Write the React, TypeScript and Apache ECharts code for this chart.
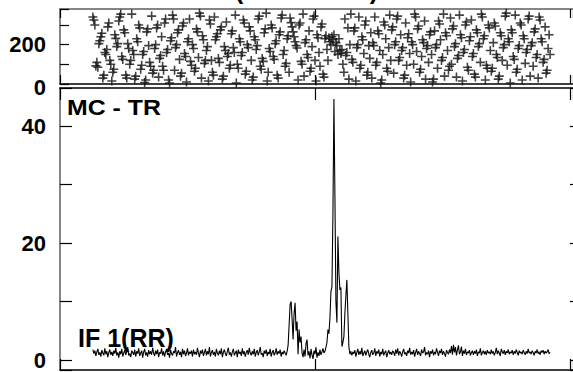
import React, { useEffect, useRef } from "react";
import * as echarts from "echarts";

// ---- data ----
const firstChannel = 33;

const ampValues: number[] = [
  1.8, 1.1, 1.6, 0.7, 1.4, 1.9, 0.9, 1.3, 0.6, 1.7, 1.2, 0.8, 2.0, 1.0, 1.5, 0.5, 1.3, 1.8, 0.9, 1.4,
  0.7, 1.6, 1.1, 2.1, 0.8, 1.3, 0.4, 1.5, 1.0, 1.9, 0.6, 1.2, 1.7, 0.9, 1.4, 2.2, 0.8, 1.1, 0.5, 1.6,
  1.3, 0.9, 1.8, 0.6, 1.5, 1.1, 2.0, 0.7, 1.2, 1.6, 0.4, 1.4, 1.9, 0.8, 1.3, 0.6, 1.7, 1.0, 1.5, 0.9,
  2.1, 1.2, 0.7, 1.6, 1.0, 1.8, 0.5, 1.3, 1.1, 2.0, 0.8, 1.5, 0.6, 1.4, 1.9, 0.9, 1.2, 0.4, 1.7, 1.1,
  0.8, 1.5, 1.2, 2.2, 0.6, 1.3, 1.7, 0.9, 1.4, 0.5, 1.9, 1.0, 1.6, 0.7, 1.2, 2.0, 0.8, 1.4, 1.1, 1.6,
  0.6, 1.8, 1.0, 1.4, 0.9, 2.1, 1.2, 0.5, 1.6, 1.1, 1.8, 0.7, 1.3, 1.9, 0.8, 1.5, 1.0, 2.2, 0.6, 1.3,
  1.7, 0.9, 1.4, 0.6, 1.9, 1.2, 0.8, 1.6, 1.0, 2.0, 0.5, 1.3, 1.8, 1.1, 0.7, 1.5, 2.1, 0.9, 1.3, 0.6,
  1.4, 1.9, 0.8, 1.2, 1.6, 0.5, 1.8, 1.1, 1.4, 0.7, 2.0, 1.0, 1.5, 0.6, 1.3, 1.7, 0.9, 2.1, 1.2, 0.8,
  1.5, 1.0, 1.9, 0.6, 1.3, 1.7, 0.8, 1.4, 2.2, 0.9, 1.2, 0.5, 1.6, 1.1, 1.8, 0.7, 1.4, 1.0, 1.9, 0.6,
  1.3, 1.7, 0.8, 1.2, 2.0, 0.9, 1.5, 1.1, 1.8, 0.6, 1.4, 1.0, 1.6, 1.2, 0.8, 1.5, 2.5, 6.0, 9.5, 10.0,
  7.0, 3.5, 8.0, 9.8, 5.0, 6.6, 1.0, 5.2, 3.0, 4.0, 1.2, 0.5, 1.8, 0.6, 2.8, 3.5, 0.8, 1.5, 0.3, 1.9,
  0.9, 0.2, 1.6, 1.0, 2.2, 0.4, 1.3, 0.7, 1.8, 0.9, 1.4, 2.0, 1.2, 1.5, 2.2, 3.0, 5.2, 4.5, 7.2, 11.7,
  12.5, 25.0, 44.6, 28.0, 10.0, 6.4, 21.1, 15.0, 12.0, 12.4, 2.3, 3.0, 4.0, 8.0, 11.0, 13.7, 8.0, 2.3, 1.0, 1.5,
  0.8, 1.4, 1.1, 1.7, 0.6, 1.3, 1.9, 0.9, 1.5, 1.0, 2.1, 0.7, 1.2, 1.6, 0.8, 1.4, 1.8, 1.0, 0.5, 1.3,
  1.7, 0.9, 1.2, 2.0, 0.7, 1.5, 1.1, 1.8, 0.6, 1.4, 1.0, 1.9, 0.8, 1.3, 1.6, 0.5, 1.2, 1.7, 1.0, 1.4,
  0.9, 1.6, 1.3, 0.7, 1.8, 1.1, 2.0, 0.8, 1.5, 1.2, 0.6, 1.4, 1.9, 1.0, 1.3, 0.7, 1.6, 1.2, 2.1, 0.9,
  1.4, 1.0, 1.7, 0.6, 1.3, 1.9, 0.9, 1.5, 1.1, 0.7, 1.8, 1.2, 1.4, 2.2, 0.8, 1.3, 1.0, 1.6, 0.5, 1.5,
  1.1, 1.8, 0.8, 1.4, 1.0, 2.0, 1.3, 0.7, 1.6, 1.2, 1.9, 0.9, 1.5, 1.1, 0.6, 1.7, 1.3, 1.0, 1.8, 1.2,
  2.4, 0.9, 2.6, 1.3, 2.2, 0.8, 1.7, 2.5, 1.0, 1.4, 2.3, 0.7, 1.6, 1.1, 1.9, 0.9, 1.4, 1.2, 1.7, 0.8,
  1.3, 1.6, 0.9, 1.5, 1.1, 1.8, 0.7, 1.4, 1.2, 2.0, 0.8, 1.3, 1.6, 1.0, 1.5, 0.9, 1.7, 1.2, 1.4, 1.0,
  1.8, 1.1, 1.5, 0.8, 1.3, 2.1, 1.0, 1.6, 1.2, 0.7, 1.9, 1.4, 1.1, 1.7, 0.9, 1.5, 1.2, 1.8, 1.0, 1.4,
  1.2, 1.7, 0.9, 1.5, 1.1, 1.8, 1.3, 0.8, 1.6, 1.2, 1.4, 1.0, 1.7, 1.3, 0.9, 1.5, 1.1, 1.9, 1.2, 1.4,
  1.0, 1.6, 1.3, 0.8, 1.5, 1.2, 1.8, 1.1, 1.4, 0.9, 1.6, 1.3, 1.7, 1.0, 1.5, 1.2, 1.4, 1.8, 1.1, 1.3,
];

const phaseValues: number[] = [
  340, 325, 300, 92, 110, 85, 205, 220, 240, 258, 30, 45, 160, 150, 175, 290, 310, 120, 100, 15,
  60, 75, 250, 232, 190, 205, 320, 340, 355, 140, 125, 275, 260, 45, 30, 205, 180, 100, 120, 355,
  170, 150, 25, 40, 230, 215, 300, 285, 75, 95, 150, 165, 8, 20, 265, 280, 195, 110, 90, 345,
  55, 70, 180, 200, 285, 300, 35, 130, 145, 240, 90, 70, 310, 330, 160, 175, 20, 5, 220, 235,
  350, 330, 70, 185, 200, 260, 275, 125, 40, 55, 295, 310, 155, 140, 10, 215, 230, 330, 115, 95,
  200, 180, 65, 80, 280, 265, 135, 360, 345, 30, 245, 225, 105, 120, 170, 190, 15, 325, 305, 120,
  60, 45, 340, 225, 240, 255, 130, 110, 275, 290, 25, 40, 190, 170, 315, 140, 155, 80, 95, 255,
  270, 185, 160, 350, 5, 100, 80, 230, 215, 145, 160, 325, 310, 50, 65, 200, 185, 290, 270, 120,
  20, 35, 240, 225, 175, 195, 330, 345, 90, 75, 130, 115, 260, 280, 360, 15, 60, 180, 165, 300,
  285, 140, 125, 205, 220, 45, 30, 250, 265, 335, 350, 150, 170, 90, 105, 230, 245, 60, 335, 312,
  290, 265, 240, 215, 195, 183, 20, 300, 310, 115, 100, 355, 40, 210, 225, 150, 135, 270, 65, 80,
  190, 330, 345, 120, 15, 250, 235, 160, 90, 290, 305, 50, 35, 230, 245, 175, 120, 235, 215, 200,
  240, 225, 250, 165, 210, 195, 150, 230, 170, 155, 175, 100, 60, 330, 145, 160, 285, 25, 200, 355,
  125, 110, 270, 285, 15, 185, 200, 340, 80, 95, 240, 225, 155, 300, 320, 45, 60, 195, 130, 260,
  30, 210, 195, 340, 95, 110, 270, 255, 170, 5, 20, 150, 315, 300, 230, 80, 65, 185, 350, 120,
  275, 290, 55, 200, 215, 330, 345, 120, 135, 250, 170, 185, 30, 45, 310, 95, 235, 255, 155, 10,
  215, 200, 100, 355, 340, 165, 280, 295, 60, 75, 140, 225, 210, 320, 25, 180, 195, 110, 250, 265,
  150, 10, 25, 270, 185, 200, 80, 320, 305, 225, 120, 135, 355, 40, 260, 245, 170, 70, 90, 335,
  100, 280, 295, 190, 205, 35, 130, 145, 350, 250, 235, 15, 160, 175, 300, 315, 85, 70, 220, 240,
  325, 140, 155, 50, 35, 275, 260, 190, 205, 110, 355, 340, 230, 245, 20, 95, 80, 300, 285, 170,
  65, 80, 210, 310, 295, 150, 135, 25, 40, 260, 245, 120, 185, 200, 345, 360, 95, 230, 215, 5,
  275, 260, 140, 125, 350, 60, 75, 180, 195, 310, 300, 20, 245, 230, 105, 160, 175, 330, 345, 40,
  195, 210, 90, 265, 280, 135, 150, 30, 340, 325, 230, 215, 110, 125, 290, 55, 70, 180, 250, 150,
];

const channelRange = [0, 515];
const channelTickStep = 256;
const phaseRange = [0, 381];
const phaseTickStep = 100;
const phaseTickLabels = [0, 200];
const ampRange = [-1.7, 46.5];
const ampTickLabels = [0, 20, 40];
const baselineLabel = "MC - TR";
const ifLabel = "IF 1(RR)";
const titleText = "(BASELINE)";

const FONT = '"Liberation Sans", Arial, Helvetica, sans-serif';
const GRAY = "#858585";
const PLUS = "path://M3.7,0H5.3V3.7H9V5.3H5.3V9H3.7V5.3H0V3.7H3.7Z";

export default function App() {
  const ref = useRef<HTMLDivElement>(null);

  useEffect(() => {
    const chart = echarts.init(ref.current!, null, { renderer: "svg" });

    const ampData = ampValues.map((v, i) => [firstChannel + i, v]);
    const phaseData = phaseValues.map((v, i) => [firstChannel + i, v]);

    const xBase = (gridIndex: number, position: string, color: string, width: number, tickLen: number) => ({
      type: "value",
      gridIndex,
      position,
      min: channelRange[0],
      max: channelRange[1],
      interval: channelTickStep,
      axisLine: { show: true, onZero: false, lineStyle: { color, width } },
      axisTick: { show: true, inside: true, length: tickLen, lineStyle: { color: "#000", width: 1.2 } },
      axisLabel: { show: false },
      splitLine: { show: false },
    });

    const labelStyle = {
      color: "#000",
      fontFamily: FONT,
      fontWeight: "bold",
      fontSize: 22,
      margin: 14,
    };

    chart.setOption({
      animation: false,
      backgroundColor: "#fff",
      grid: [
        { left: 60, top: 9, width: 513, height: 75 },
        { left: 60, top: 88, width: 513, height: 282 },
      ],
      xAxis: [
        xBase(0, "bottom", "#000", 1.5, 9),
        xBase(0, "top", GRAY, 2, 9),
        xBase(1, "top", "#000", 1.5, 12),
        xBase(1, "bottom", "#000", 1.5, 11),
      ],
      yAxis: [
        {
          type: "value",
          gridIndex: 0,
          position: "left",
          min: phaseRange[0],
          max: phaseRange[1],
          interval: phaseTickStep,
          axisLine: { show: true, onZero: false, lineStyle: { color: GRAY, width: 2 } },
          axisTick: { show: true, inside: true, length: 9, lineStyle: { color: "#000", width: 1.2 } },
          axisLabel: {
            ...labelStyle,
            formatter: (v: number) =>
              phaseTickLabels.includes(v) ? (v === 0 ? "{low|" + v + "}" : String(v)) : "",
            rich: {
              low: {
                color: "#000",
                fontFamily: FONT,
                fontWeight: "bold",
                fontSize: 22,
                padding: [6, 0, 0, 0],
              },
            },
          },
          splitLine: { show: false },
        },
        {
          type: "value",
          gridIndex: 1,
          position: "left",
          min: ampRange[0],
          max: ampRange[1],
          splitNumber: 5,
          axisLine: { show: true, onZero: false, lineStyle: { color: GRAY, width: 2 } },
          axisTick: { show: true, inside: true, length: 12, lineStyle: { color: "#000", width: 1.2 } },
          axisLabel: {
            ...labelStyle,
            formatter: (v: number) => (ampTickLabels.includes(v) ? String(v) : ""),
          },
          splitLine: { show: false },
        },
        {
          type: "value",
          gridIndex: 1,
          position: "right",
          min: ampRange[0],
          max: ampRange[1],
          splitNumber: 5,
          axisLine: { show: false, onZero: false },
          axisTick: { show: true, inside: true, length: 3, lineStyle: { color: "#000", width: 1.2 } },
          axisLabel: { show: false },
          splitLine: { show: false },
        },
      ],
      series: [
        {
          type: "scatter",
          xAxisIndex: 0,
          yAxisIndex: 0,
          data: phaseData,
          symbol: PLUS,
          symbolSize: 9,
          itemStyle: { color: "#111" },
          silent: true,
        },
        {
          type: "line",
          xAxisIndex: 3,
          yAxisIndex: 1,
          data: ampData,
          showSymbol: false,
          symbol: "none",
          lineStyle: { color: "#000", width: 1.1 },
          silent: true,
        },
      ],
      graphic: [
        {
          type: "text",
          x: 235,
          y: -10,
          style: { text: titleText, font: "bold 25px " + FONT, fill: "#000", verticalAlign: "middle" },
        },
        {
          type: "text",
          x: 67,
          y: 108,
          scaleX: 1.13,
          style: { text: baselineLabel, font: "bold 22px " + FONT, fill: "#000", verticalAlign: "middle" },
        },
        {
          type: "text",
          x: 78,
          y: 338,
          style: { text: ifLabel, font: "bold 25px " + FONT, fill: "#000", verticalAlign: "middle" },
        },
      ],
    });

    return () => chart.dispose();
  }, []);

  return (
    <div
      ref={ref}
      style={{ position: "fixed", left: 0, top: 0, width: 573, height: 372, background: "#fff" }}
    />
  );
}
